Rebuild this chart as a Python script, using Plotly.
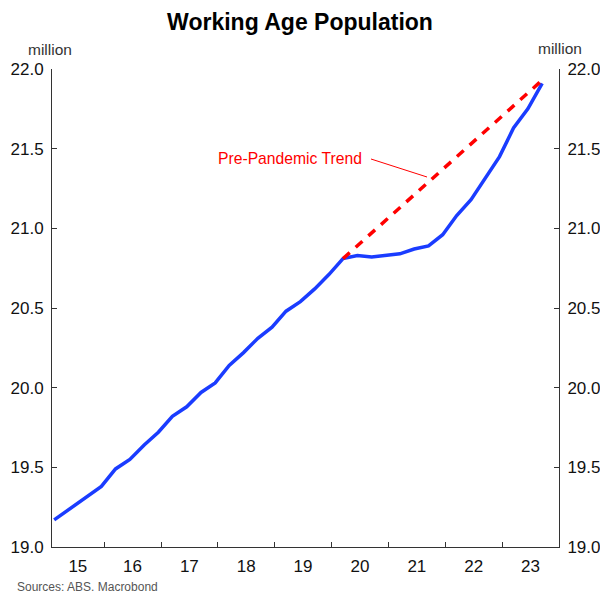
import plotly.graph_objects as go

# Working age population (million), quarterly points (first point Feb 2015)
dates = [
    "2015-02-15",
    "2015-03-15", "2015-06-15", "2015-09-15", "2015-12-15",
    "2016-03-15", "2016-06-15", "2016-09-15", "2016-12-15",
    "2017-03-15", "2017-06-15", "2017-09-15", "2017-12-15",
    "2018-03-15", "2018-06-15", "2018-09-15", "2018-12-15",
    "2019-03-15", "2019-06-15", "2019-09-15", "2019-12-15",
    "2020-03-15", "2020-06-15", "2020-09-15", "2020-12-15",
    "2021-03-15", "2021-06-15", "2021-09-15", "2021-12-15",
    "2022-03-15", "2022-06-15", "2022-09-15", "2022-12-15",
    "2023-03-15", "2023-06-15", "2023-09-15",
]
population = [
    19.17,
    19.19, 19.25, 19.32, 19.38,
    19.49, 19.55, 19.64, 19.72,
    19.82, 19.88, 19.97, 20.03,
    20.14, 20.22, 20.31, 20.38,
    20.48, 20.54, 20.62, 20.71,
    20.81, 20.83, 20.82, 20.83,
    20.84, 20.87, 20.89, 20.96,
    21.08, 21.18, 21.32, 21.45,
    21.63, 21.75, 21.91,
]

trend_dates = ["2020-03-15", "2023-09-15"]
trend_values = [20.81, 21.93]

tick_label_pos = ["2015-07-17", "2016-07-02", "2017-07-02", "2018-07-02", "2019-07-02",
                  "2020-07-02", "2021-07-02", "2022-07-02", "2023-07-02"]
tick_labels = ["15", "16", "17", "18", "19", "20", "21", "22", "23"]
year_bounds = ["2016-01-01", "2017-01-01", "2018-01-01", "2019-01-01",
               "2020-01-01", "2021-01-01", "2022-01-01", "2023-01-01"]

FONT = "Liberation Sans, Arial, sans-serif"
AX = "#333333"
BLUE = "#1a3cff"
RED = "#ff0000"

fig = go.Figure()
fig.add_trace(go.Scatter(x=trend_dates, y=trend_values, mode="lines",
                         line=dict(color=RED, width=3.5, dash="9px,8px"),
                         hoverinfo="skip", showlegend=False, yaxis="y2"))
fig.add_trace(go.Scatter(x=dates, y=population, mode="lines",
                         line=dict(color=BLUE, width=3.5),
                         hoverinfo="skip", showlegend=False))

yax = dict(range=[19, 22], tick0=19, dtick=0.5, tickformat=".1f",
           ticks="inside", ticklen=5, tickcolor=AX, showline=True,
           linecolor=AX, linewidth=1, showgrid=False, zeroline=False,
           tickfont=dict(family=FONT, size=17, color="#111111"),
           ticklabelstandoff=4, automargin=False)


def px_x(p):
    return (p - 52) / 507


def px_y(p):
    return (547 - p) / 478


fig.update_layout(
    width=600, height=593, autosize=False,
    margin=dict(l=52, r=41, t=69, b=46),
    paper_bgcolor="white", plot_bgcolor="white",
    title=dict(text="<b>Working Age Population</b>", x=0.5, xref="container",
               y=1 - 22 / 593, yref="container", yanchor="middle", xanchor="center",
               font=dict(family=FONT, size=23, color="#000000")),
    xaxis=dict(type="date", range=["2015-02-01", "2024-01-01"],
               tickmode="array", tickvals=tick_label_pos, ticktext=tick_labels,
               ticks="", showline=True, linecolor=AX, linewidth=1,
               showgrid=False, zeroline=False, automargin=False,
               tickfont=dict(family=FONT, size=17, color="#111111"),
               ticklabelstandoff=4,
               minor=dict(tickmode="array", tickvals=year_bounds, ticks="inside",
                          ticklen=5, tickcolor=AX, showgrid=False)),
    yaxis=yax,
    yaxis2=dict(yax, overlaying="y", side="right", matches="y"),
    hovermode=False,
    shapes=[
        dict(type="line", xref="paper", yref="paper",
             x0=px_x(371), y0=px_y(159), x1=px_x(427), y1=px_y(177),
             line=dict(color=RED, width=1)),
    ],
    annotations=[
        dict(text="million", xref="paper", yref="paper", x=px_x(50),
             y=px_y(50), xanchor="center", yanchor="middle", showarrow=False,
             font=dict(family=FONT, size=15.5, color="#333333")),
        dict(text="million", xref="paper", yref="paper", x=px_x(560),
             y=px_y(48), xanchor="center", yanchor="middle", showarrow=False,
             font=dict(family=FONT, size=15.5, color="#333333")),
        dict(text="Sources: ABS. Macrobond", xref="paper", yref="paper",
             x=px_x(15), y=px_y(586.5), xanchor="left", yanchor="middle",
             showarrow=False, font=dict(family=FONT, size=12, color="#555555")),
        dict(text="Pre-Pandemic Trend", xref="paper", yref="paper",
             x=px_x(290), y=px_y(158), xanchor="center", yanchor="middle",
             showarrow=False, font=dict(family=FONT, size=15.7, color=RED)),
    ],
)

fig.write_html("out.html", config={"displayModeBar": False},
               post_script="document.body.style.margin='0';document.body.style.padding='0';")
